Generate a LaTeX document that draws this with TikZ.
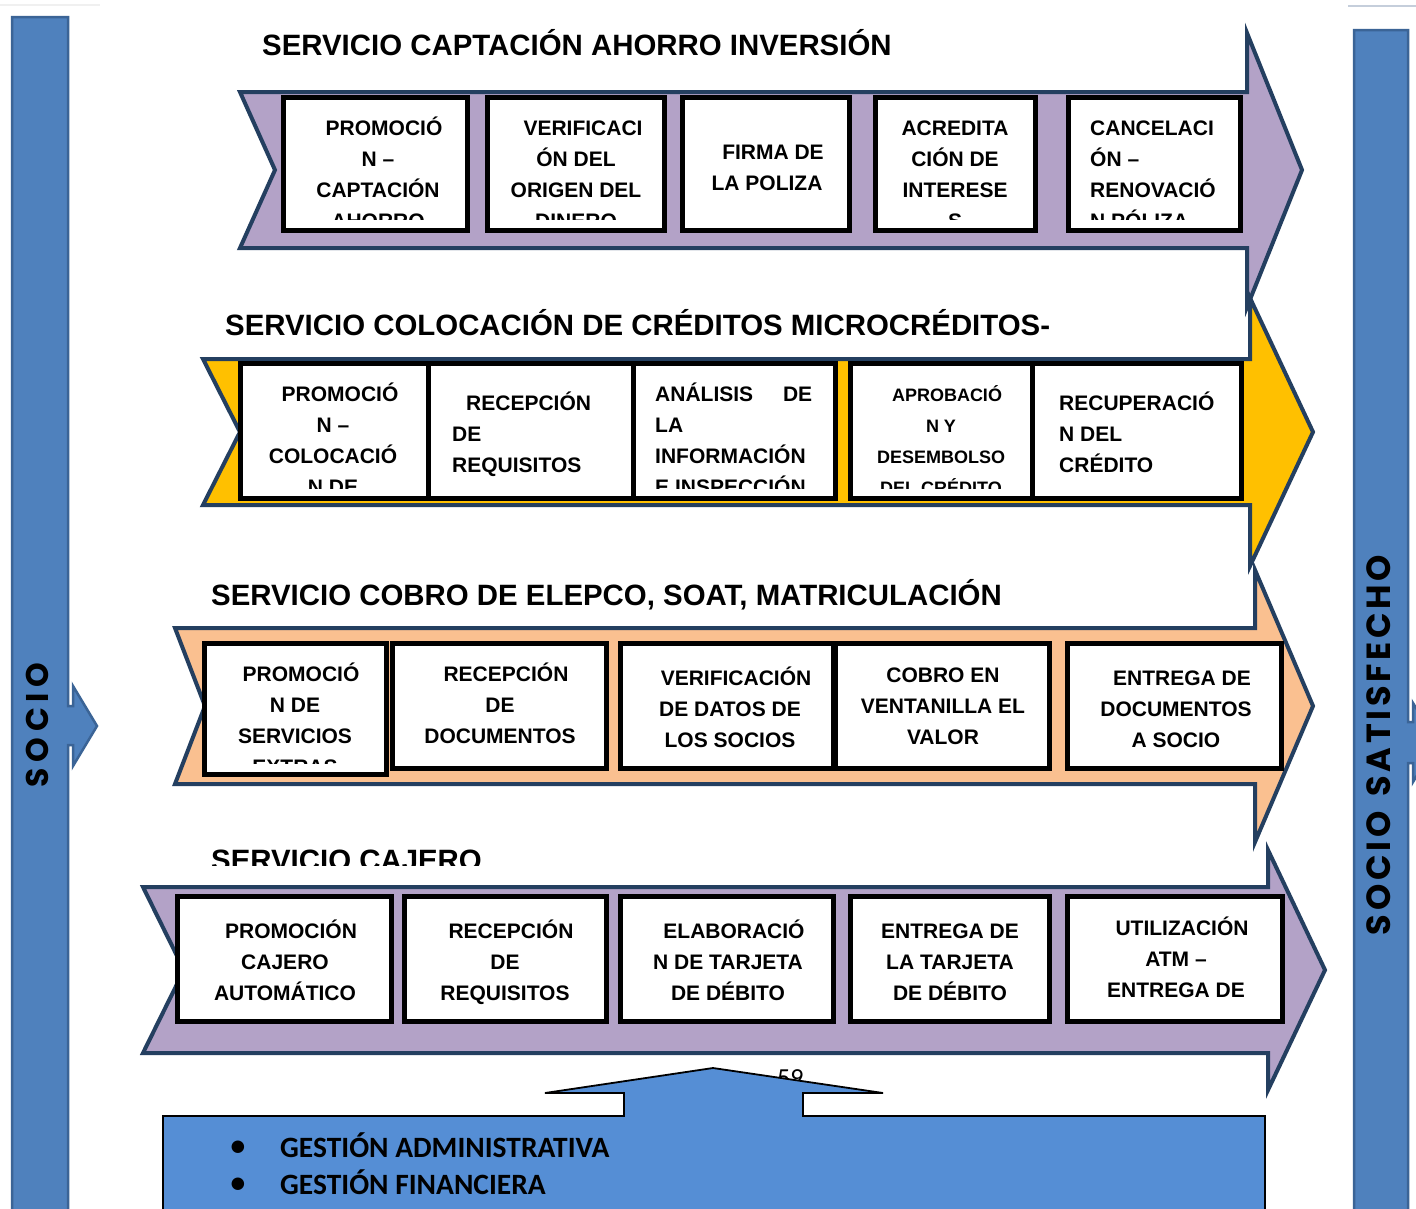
\documentclass[tikz,border=0pt]{standalone}
\usepackage{fontspec}
\setmainfont{Liberation Sans}
\IfFontExistsTF{Poppins Bold}
  {\newfontfamily\gothic{Poppins Bold}}
  {\newfontfamily\gothic{DejaVu Sans Bold}}
\newfontfamily\calibri{Carlito}

\definecolor{navy}{HTML}{243F60}
\definecolor{lilac}{HTML}{B3A2C7}
\definecolor{amber}{HTML}{FFC000}
\definecolor{peach}{HTML}{FAC090}
\definecolor{barblue}{HTML}{4F81BD}
\definecolor{barline}{HTML}{3B6496}
\definecolor{panelblue}{HTML}{558ED5}

% text struts: one line slot of 31pt with the caps centred in it
\newcommand\sL{\rule[-8pt]{0pt}{31pt}}
\newcommand\sS{\rule[-9pt]{0pt}{31pt}}
\newcommand\btfont{\fontsize{21}{31}\selectfont\bfseries}
\newcommand\bsfont{\fontsize{18}{31}\selectfont\bfseries}
\newcommand\ttfont{\fontsize{29.4}{35}\selectfont\bfseries}

% process chevron: fill, left x, shaft top, shaft bottom, notch x, head x, head half height, tip x
\newcommand\chevron[8]{%
  \filldraw[chev, fill=#1] (#2,#3) -- (#6,#3) -- (#6,{(#3+#4)/2-#7}) -- (#8,{(#3+#4)/2})
    -- (#6,{(#3+#4)/2+#7}) -- (#6,#4) -- (#2,#4) -- (#5,{(#3+#4)/2}) -- cycle;}

% step box from its outer edges: name, x1, y1, x2, y2
\newcommand\stepbox[5]{%
  \node[pboxst, minimum width={#4-#2-5}, minimum height={#5-#3-5}] (#1)
    at ({(#2+#4)/2},{(#3+#5)/2}) {};}

\begin{document}
\begin{tikzpicture}[x=1pt, y=-1pt,
  chev/.style={draw=navy, line width=4pt, line join=miter},
  pboxst/.style={draw=black, line width=5pt, fill=white, inner sep=0pt, outer sep=0pt},
  btext/.style={font=\btfont, align=center, inner sep=0pt},
  btextl/.style={font=\btfont, align=left, inner sep=0pt, anchor=west},
  ttl/.style={font=\ttfont, anchor=base west, inner sep=0pt},
  barst/.style={fill=barblue, draw=barline, line width=2.5pt, line join=miter},
  sidelbl/.style={font=\gothic\fontsize{27}{32}\selectfont, rotate=90, inner sep=0pt,
    text height=19pt, text depth=0pt},
  bul/.style={font=\calibri\bfseries\fontsize{29.5}{34}\selectfont, inner sep=0pt}
]
\useasboundingbox (0,0) rectangle (1416,1208);
\clip (0,0) rectangle (1416,1208);
\fill[white] (0,0) rectangle (1416,1208);

% faint rules at the top edge
\draw[gray!12, line width=1.5pt] (0,5) -- (100,5);
\draw[color={rgb,255:red,197;green,206;blue,219}, line width=2pt] (1348,6) -- (1416,6);

% side bars with their arrows
\filldraw[barst] (12,17) -- (68,17) -- (68,706) -- (73,706) -- (73,686) -- (97,726) -- (73,766)
  -- (73,745) -- (68,745) -- (68,1230) -- (12,1230) -- cycle;
\filldraw[barst] (1354,30) -- (1408,30) -- (1408,722) -- (1413,722) -- (1413,703) -- (1437,742)
  -- (1413,782) -- (1413,763) -- (1408,763) -- (1408,1230) -- (1354,1230) -- cycle;
\node[sidelbl] (socio) at (39,725) {\resizebox{125pt}{!}{S\kern5pt O\kern5pt C\kern5pt I\kern5pt O}};
\node[sidelbl] (sociosat) at (1381,745)
  {\resizebox{380pt}{!}{S\kern3pt O\kern3pt C\kern3pt I\kern3pt O\kern12pt S\kern3pt A\kern3pt T\kern3pt I\kern3pt S\kern3pt F\kern3pt E\kern3pt C\kern3pt H\kern3pt O}};

% ---------- row 1: captación ----------
\node[ttl] (ttl1) at (262,55.5) {SERVICIO CAPTACIÓN AHORRO INVERSIÓN};
\chevron{lilac}{240}{92}{248}{275}{1247}{137}{1302}
\stepbox{b11}{281}{95}{470}{233}
\stepbox{b12}{485}{95}{667}{233}
\stepbox{b13}{680}{95}{852}{233}
\stepbox{b14}{873}{95}{1038}{233}
\stepbox{b15}{1066}{95}{1243}{233}
\begin{scope}
  \clip (283.5,97.5) rectangle (1240.5,219);
  \node[btext] (t11) at (378,174.5) {\sL\hspace*{12pt}PROMOCIÓ\\\sL N –\\\sL CAPTACIÓN\\\sL AHORRO};
  \node[btext] (t12) at (576,174.5) {\sL\hspace*{14pt}VERIFICACI\\\sL ÓN DEL\\\sL ORIGEN DEL\\\sL DINERO};
  \node[btext] (t13) at (767,167.5) {\sL\hspace*{12pt}FIRMA DE\\\sL LA POLIZA};
  \node[btext] (t14) at (955,174.5) {\sL ACREDITA\\\sL CIÓN DE\\\sL INTERESE\\\sL S};
  \node[btextl] (t15) at (1090,174.5) {\sL CANCELACI\\\sL ÓN –\\\sL RENOVACIÓ\\\sL N PÓLIZA};
\end{scope}

% ---------- row 2: colocación ----------
\node[ttl] (ttl2) at (225,335.5) {SERVICIO COLOCACIÓN DE CRÉDITOS MICROCRÉDITOS-};
\chevron{amber}{203}{359}{505}{240}{1250}{134}{1313}
\stepbox{b21}{238}{361}{431}{501}
\stepbox{b22}{426}{361}{636}{501}
\stepbox{b23}{631}{361}{838}{501}
\stepbox{b24}{848}{361}{1035}{501}
\stepbox{b25}{1030}{361}{1244}{501}
\begin{scope}
  \clip (240.5,363.5) rectangle (1241.5,488);
  \node[btext] (t21) at (333,440.5) {\sL\hspace*{14pt}PROMOCIÓ\\\sL N –\\\sL COLOCACIÓ\\\sL N DE};
  \node[btextl] (t22) at (452,434) {\sL\hspace*{14pt}RECEPCIÓN\\\sL DE\\\sL REQUISITOS};
  \node[btextl] (t23) at (655,440.5) {\sL\makebox[157pt][l]{ANÁLISIS\hfill DE}\\\sL LA\\\sL INFORMACIÓN\\\sL E INSPECCIÓN};
  \node[btext, font=\bsfont] (t24) at (941,441.5) {\sS\hspace*{12pt}APROBACIÓ\\\sS N Y\\\sS DESEMBOLSO\\\sS DEL CRÉDITO};
  \node[btextl] (t25) at (1059,434) {\sL RECUPERACIÓ\\\sL N DEL\\\sL CRÉDITO};
\end{scope}

% ---------- row 3: cobros ----------
\node[ttl] (ttl3) at (211,605.5) {SERVICIO COBRO DE ELEPCO, SOAT, MATRICULACIÓN};
\chevron{peach}{175}{628}{784}{205}{1255}{136}{1313}
\stepbox{b31}{202}{641}{389}{777}
\stepbox{b32}{390}{641}{609}{771}
\stepbox{b33}{618}{641}{836}{771}
\stepbox{b34}{833}{641}{1052}{771}
\stepbox{b35}{1065}{641}{1284}{771}
\begin{scope}
  \clip (204.5,643.5) rectangle (386.5,763);
  \node[btext] (t31) at (295,720.5) {\sL\hspace*{12pt}PROMOCIÓ\\\sL N DE\\\sL SERVICIOS\\\sL EXTRAS};
\end{scope}
\node[btext] (t32) at (500,705) {\sL\hspace*{12pt}RECEPCIÓN\\\sL DE\\\sL DOCUMENTOS};
\node[btext] (t33) at (730,709) {\sL\hspace*{12pt}VERIFICACIÓN\\\sL DE DATOS DE\\\sL LOS SOCIOS};
\node[btext] (t34) at (943,706) {\sL COBRO EN\\\sL VENTANILLA EL\\\sL VALOR};
\node[btext] (t35) at (1176,709) {\sL\hspace*{12pt}ENTREGA DE\\\sL DOCUMENTOS\\\sL A SOCIO};

% ---------- row 4: cajero ----------
\begin{scope}
  \clip (150,835) rectangle (700,865);
  \node[ttl] (ttl4) at (211,870.8) {SERVICIO CAJERO};
\end{scope}
\chevron{lilac}{143}{887}{1053}{184}{1268}{120}{1325}
\stepbox{b41}{175}{894}{394}{1024}
\stepbox{b42}{402}{894}{609}{1024}
\stepbox{b43}{618}{894}{836}{1024}
\stepbox{b44}{848}{894}{1052}{1024}
\stepbox{b45}{1065}{894}{1285}{1024}
\node[btext] (t41) at (285,962) {\sL\hspace*{12pt}PROMOCIÓN\\\sL CAJERO\\\sL AUTOMÁTICO};
\node[btext] (t42) at (505,962) {\sL\hspace*{12pt}RECEPCIÓN\\\sL DE\\\sL REQUISITOS};
\node[btext] (t43) at (728,962) {\sL\hspace*{12pt}ELABORACIÓ\\\sL N DE TARJETA\\\sL DE DÉBITO};
\node[btext] (t44) at (950,962) {\sL ENTREGA DE\\\sL LA TARJETA\\\sL DE DÉBITO};
\node[btext] (t45) at (1176,959) {\sL\hspace*{12pt}UTILIZACIÓN\\\sL ATM –\\\sL ENTREGA DE};

% ---------- management panel ----------
\node[font=\calibri\fontsize{26}{30}\selectfont, anchor=base west, inner sep=0pt] (pg) at (777,1086.5) {59};
\filldraw[draw=black, line width=1.8pt, fill=panelblue, line join=miter]
  (163,1230) -- (163,1116) -- (624,1116) -- (624,1093) -- (545,1093) -- (713,1068)
  -- (883,1093) -- (803,1093) -- (803,1116) -- (1265,1116) -- (1265,1230);
\node[bul] (bul1) at (238,1148) {•};
\node[bul] (bul2) at (238,1185) {•};
\node[bul, anchor=base west] (g1) at (280,1157.5) {GESTIÓN ADMINISTRATIVA};
\node[bul, anchor=base west] (g2) at (280,1194.5) {GESTIÓN FINANCIERA};
\end{tikzpicture}
\end{document}
